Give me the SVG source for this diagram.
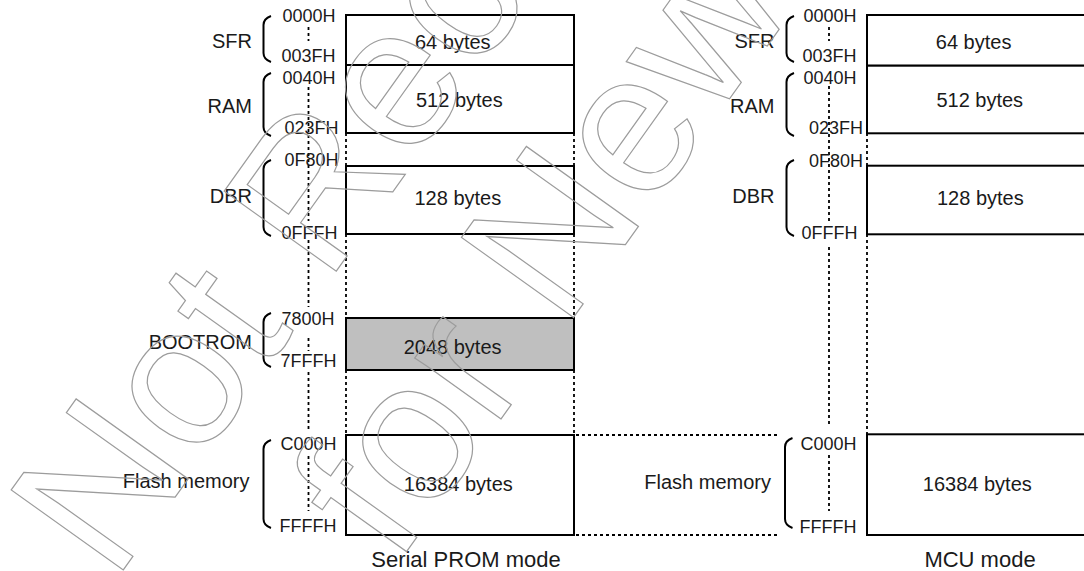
<svg xmlns="http://www.w3.org/2000/svg" width="1084" height="571" viewBox="0 0 1084 571">
<style>
.bg{fill:#fff}
.box{fill:#fff;stroke:#000;stroke-width:2}
.boot{fill:#bfbfbf;stroke:#000;stroke-width:2}
.dot{fill:none;stroke:#000;stroke-width:1.8;stroke-dasharray:3 3}
.brace{fill:none;stroke:#000;stroke-width:2}
text{font-family:"Liberation Sans",Arial,sans-serif;fill:#1a1a1a}
.grp{font-size:20px;text-anchor:end}
.addr{font-size:18px;text-anchor:end}
.size{font-size:20px}
.mode{font-size:22px;text-anchor:middle}
.wm{font-size:200px;fill:none;stroke:#9c9c9c;stroke-width:1.2;text-anchor:middle}
</style>
<rect class="bg" x="0" y="0" width="1084" height="571"/>

<g id="connectors">
  <!-- left address column -->
  <line class="dot" x1="308.5" y1="27" x2="308.5" y2="41"/>
  <line class="dot" x1="308.5" y1="87" x2="308.5" y2="221"/>
  <line class="dot" x1="308.5" y1="240" x2="308.5" y2="307"/>
  <line class="dot" x1="308.5" y1="338" x2="308.5" y2="351"/>
  <line class="dot" x1="308.5" y1="372" x2="308.5" y2="431"/>
  <line class="dot" x1="308.5" y1="456" x2="308.5" y2="511"/>
  <!-- right address column -->
  <line class="dot" x1="829" y1="27" x2="829" y2="41"/>
  <line class="dot" x1="829" y1="86" x2="829" y2="221"/>
  <line class="dot" x1="829" y1="247" x2="829" y2="427"/>
  <line class="dot" x1="829" y1="455" x2="829" y2="511"/>
  <!-- left box edges -->
  <line class="dot" x1="346" y1="133" x2="346" y2="166"/>
  <line class="dot" x1="346" y1="234" x2="346" y2="318"/>
  <line class="dot" x1="346" y1="370" x2="346" y2="435"/>
  <line class="dot" x1="574" y1="133" x2="574" y2="166"/>
  <line class="dot" x1="574" y1="234" x2="574" y2="318"/>
  <line class="dot" x1="574" y1="370" x2="574" y2="435"/>
  <!-- right box edge -->
  <line class="dot" x1="867" y1="133" x2="867" y2="166"/>
  <line class="dot" x1="867" y1="234" x2="867" y2="434"/>
  <!-- flash link -->
  <line class="dot" x1="576" y1="435" x2="779" y2="435"/>
  <line class="dot" x1="576" y1="535" x2="779" y2="535"/>
</g>

<g id="serial-sfr">
  <rect class="box" x="346" y="15" width="228" height="50"/>
  <path class="brace" d="M271,16 C265.5,18 263.5,21 263.5,25 L263.5,53 C263.5,57 265.5,60 271,62"/>
  <text class="grp" x="252" y="48.3">SFR</text>
  <text class="addr" x="335.5" y="22">0000H</text>
  <text class="addr" x="335.5" y="62">003FH</text>
  <text class="size" x="415" y="48.5">64 bytes</text>
</g>
<g id="serial-ram">
  <rect class="box" x="346" y="65" width="228" height="68"/>
  <path class="brace" d="M271,73 C265.5,75 263.5,78 263.5,82 L263.5,127 C263.5,131 265.5,134 271,136"/>
  <text class="grp" x="252" y="112.5">RAM</text>
  <text class="addr" x="335.5" y="83.5">0040H</text>
  <text class="addr" x="338.5" y="133.5">023FH</text>
  <text class="size" x="416" y="106.5">512 bytes</text>
</g>
<g id="serial-dbr">
  <rect class="box" x="346" y="166" width="228" height="68"/>
  <path class="brace" d="M271,160 C265.5,162 263.5,165 263.5,169 L263.5,227 C263.5,231 265.5,234 271,236"/>
  <text class="grp" x="252" y="202.5">DBR</text>
  <text class="addr" x="338.5" y="165.5">0F80H</text>
  <text class="addr" x="337.5" y="238.5">0FFFH</text>
  <text class="size" x="414.5" y="205">128 bytes</text>
</g>
<g id="serial-bootrom">
  <rect class="boot" x="346" y="318" width="228" height="52"/>
  <path class="brace" d="M271,313 C265.5,315 263.5,318 263.5,322 L263.5,358 C263.5,362 265.5,365 271,367"/>
  <text class="grp" x="252" y="349">BOOTROM</text>
  <text class="addr" x="334.5" y="325">7800H</text>
  <text class="addr" x="336.5" y="367">7FFFH</text>
  <text class="size" x="403.7" y="354">2048 bytes</text>
</g>
<g id="serial-flash">
  <rect class="box" x="346" y="435" width="228" height="100"/>
  <path class="brace" d="M271,440 C265.5,442 263.5,445 263.5,449 L263.5,519 C263.5,523 265.5,526 271,528"/>
  <text class="grp" x="249.5" y="488">Flash memory</text>
  <text class="addr" x="336.5" y="449.5">C000H</text>
  <text class="addr" x="336.5" y="532">FFFFH</text>
  <text class="size" x="403.8" y="490.5">16384 bytes</text>
</g>
<g id="serial-title">
  <text class="mode" x="466" y="567">Serial PROM mode</text>
</g>

<g id="mcu-sfr">
  <rect class="box" x="867" y="15" width="230" height="50.7"/>
  <path class="brace" d="M794,16 C788.5,18 786.5,21 786.5,25 L786.5,53 C786.5,57 788.5,60 794,62"/>
  <text class="grp" x="774.5" y="48.3">SFR</text>
  <text class="addr" x="856.5" y="22">0000H</text>
  <text class="addr" x="856.5" y="62">003FH</text>
  <text class="size" x="935.8" y="48.5">64 bytes</text>
</g>
<g id="mcu-ram">
  <rect class="box" x="867" y="65.7" width="230" height="67.6"/>
  <path class="brace" d="M794,73 C788.5,75 786.5,78 786.5,82 L786.5,127 C786.5,131 788.5,134 794,136"/>
  <text class="grp" x="774.5" y="112.5">RAM</text>
  <text class="addr" x="856.5" y="83.5">0040H</text>
  <text class="addr" x="863" y="133.5">023FH</text>
  <text class="size" x="936.4" y="106.5">512 bytes</text>
</g>
<g id="mcu-dbr">
  <rect class="box" x="867" y="165.7" width="230" height="68.6"/>
  <path class="brace" d="M794,160 C788.5,162 786.5,165 786.5,169 L786.5,227 C786.5,231 788.5,234 794,236"/>
  <text class="grp" x="774.5" y="202.5">DBR</text>
  <text class="addr" x="863" y="167">0F80H</text>
  <text class="addr" x="857.5" y="238.5">0FFFH</text>
  <text class="size" x="937" y="205">128 bytes</text>
</g>
<g id="mcu-flash">
  <rect class="box" x="867" y="434.3" width="230" height="100.7"/>
  <path class="brace" d="M792.5,438 C787,440 785,443 785,447 L785,519 C785,523 787,526 792.5,528"/>
  <text class="grp" x="771" y="489">Flash memory</text>
  <text class="addr" x="856.5" y="450">C000H</text>
  <text class="addr" x="856.5" y="532.5">FFFFH</text>
  <text class="size" x="922.8" y="491">16384 bytes</text>
</g>
<g id="mcu-title">
  <text class="mode" x="980" y="567">MCU mode</text>
</g>

<g id="watermark" transform="rotate(-54.5 614.1 -118.2)">
  <text class="wm" x="614.1" y="-118.2">Not Recommended</text>
  <text class="wm" x="614.1" y="101.8">for New Design</text>
</g>
</svg>
